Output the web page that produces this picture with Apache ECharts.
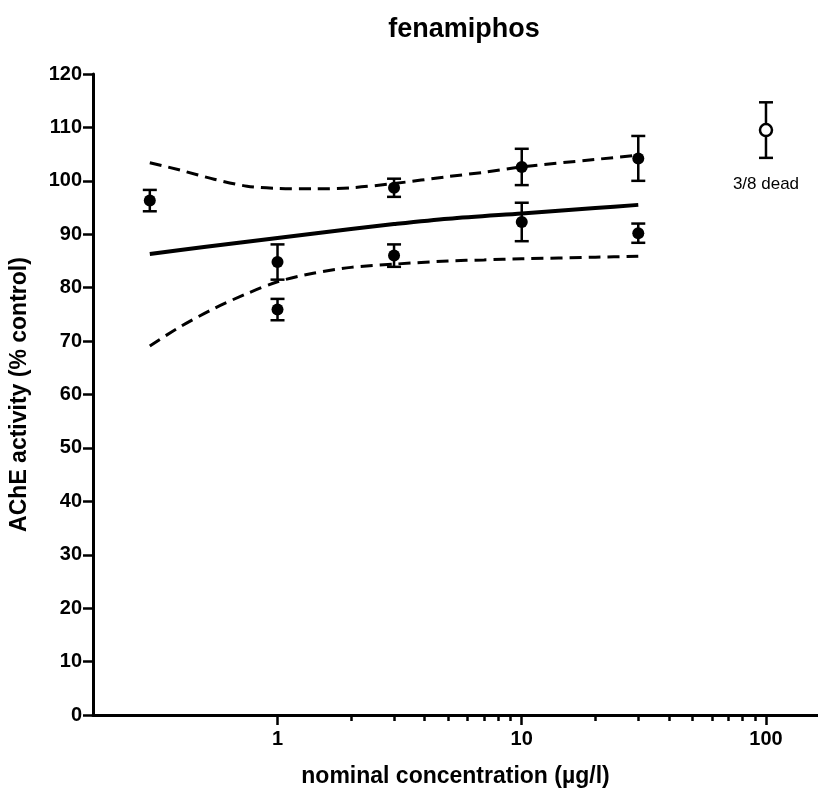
<!DOCTYPE html>
<html>
<head>
<meta charset="utf-8">
<script src="https://cdn.jsdelivr.net/npm/echarts@6/dist/echarts.min.js"></script>
<style>
  html, body { margin: 0; padding: 0; background: #fff; }
  #chart { width: 818px; height: 790px; }
</style>
</head>
<body>
<div id="chart"></div>
<script>
// Measured AChE activity (mean and SEM) per nominal concentration
const concentrations = [0.3, 1, 1, 3, 3, 10, 10, 30, 30];
const activityMean   = [96.3, 84.8, 75.9, 98.7, 86.0, 102.6, 92.3, 104.2, 90.2];
const activitySem    = [2.0, 3.3, 2.0, 1.7, 2.1, 3.4, 3.6, 4.2, 1.8];

// Highest concentration, with mortality (open symbol)
const deadConc = [100];
const deadMean = [109.5];
const deadSem  = [5.2];
const deadNote = '3/8 dead';

// Fitted curve and its 95% confidence band
const fitX   = [0.3, 0.5, 1, 2, 3, 5, 10, 20, 30];
const fitY   = [86.3, 87.6, 89.3, 91.0, 91.9, 92.9, 93.9, 94.9, 95.5];
const bandX  = [0.3, 0.4, 0.55, 0.75, 1, 1.4, 2, 3, 5, 7, 10, 20, 30];
const upperY = [103.4, 102.0, 100.3, 99.0, 98.6, 98.5, 98.7, 99.5, 100.8, 101.6, 102.6, 104.0, 104.8];
const lowerY = [69.1, 72.7, 76.1, 78.9, 81.1, 82.7, 83.8, 84.4, 85.0, 85.2, 85.4, 85.7, 85.9];

// Axis ticks
const majorTicks = [1, 10, 100];
const minorTicks = [2, 3, 4, 5, 6, 7, 8, 9, 20, 30, 40, 50, 60, 70, 80, 90];
const xMin = 0.1756, xMax = 163.3;

const zip = (xs, ys) => xs.map((x, i) => [x, ys[i]]);

const FONT = '"Liberation Sans", Arial, Helvetica, sans-serif';

function errorBar(params, api) {
  const x = api.value(0);
  const lo = api.coord([x, api.value(1)]);
  const hi = api.coord([x, api.value(2)]);
  const w = 7;
  const st = { stroke: '#000', lineWidth: 2.5 };
  return {
    type: 'group',
    children: [
      { type: 'line', shape: { x1: lo[0], y1: lo[1], x2: hi[0], y2: hi[1] }, style: st },
      { type: 'line', shape: { x1: lo[0] - w, y1: lo[1], x2: lo[0] + w, y2: lo[1] }, style: st },
      { type: 'line', shape: { x1: hi[0] - w, y1: hi[1], x2: hi[0] + w, y2: hi[1] }, style: st }
    ]
  };
}

const chart = echarts.init(document.getElementById('chart'), null, { renderer: 'canvas' });

chart.setOption({
  animation: false,
  backgroundColor: '#fff',
  title: {
    text: 'fenamiphos',
    left: 459, top: 11, textAlign: 'center',
    textStyle: { fontFamily: FONT, fontWeight: 'bold', fontSize: 27, color: '#000' }
  },
  grid: { left: 93, right: 0, top: 74, bottom: 75, outerBoundsMode: 'none', containLabel: false },
  xAxis: [
    {
      type: 'log', logBase: 10, min: xMin, max: xMax,
      name: 'nominal concentration (µg/l)',
      nameLocation: 'middle', nameGap: 50,
      nameTextStyle: { fontFamily: FONT, fontWeight: 'bold', fontSize: 23, color: '#000' },
      axisLine: { show: true, lineStyle: { color: '#000', width: 3 } },
      axisTick: { show: true, customValues: majorTicks, length: 10, lineStyle: { color: '#000', width: 2.5 } },
      axisLabel: {
        customValues: majorTicks, margin: 14,
        fontFamily: FONT, fontWeight: 'bold', fontSize: 20, color: '#000',
        formatter: v => String(v)
      },
      splitLine: { show: false },
      minorTick: { show: false }
    },
    {
      type: 'log', logBase: 10, min: xMin, max: xMax,
      position: 'bottom',
      axisLine: { show: false },
      axisTick: { show: true, customValues: minorTicks, length: 6, lineStyle: { color: '#000', width: 2.5 } },
      axisLabel: { show: false },
      splitLine: { show: false }
    }
  ],
  yAxis: {
    type: 'value', min: 0, max: 120, interval: 10,
    name: 'AChE activity (% control)',
    nameLocation: 'middle', nameGap: 62, nameRotate: 90,
    nameTextStyle: { fontFamily: FONT, fontWeight: 'bold', fontSize: 23, color: '#000' },
    axisLine: { show: true, lineStyle: { color: '#000', width: 3 } },
    axisTick: { show: true, length: 10, lineStyle: { color: '#000', width: 2.5 } },
    axisLabel: { margin: 11, fontFamily: FONT, fontWeight: 'bold', fontSize: 20, color: '#000' },
    splitLine: { show: false }
  },
  series: [
    {
      type: 'line', data: zip(bandX, upperY), smooth: 0.3, symbol: 'none',
      lineStyle: { color: '#000', width: 3, type: [12, 7] }, z: 2
    },
    {
      type: 'line', data: zip(bandX, lowerY), smooth: 0.3, symbol: 'none',
      lineStyle: { color: '#000', width: 3, type: [12, 7] }, z: 2
    },
    {
      type: 'line', data: zip(fitX, fitY), smooth: 0.3, symbol: 'none',
      lineStyle: { color: '#000', width: 4 }, z: 2
    },
    {
      type: 'custom', renderItem: errorBar, z: 3,
      data: concentrations.map((x, i) => [x, activityMean[i] - activitySem[i], activityMean[i] + activitySem[i]])
    },
    {
      type: 'custom', renderItem: errorBar, z: 3,
      data: deadConc.map((x, i) => [x, deadMean[i] - deadSem[i], deadMean[i] + deadSem[i]])
    },
    {
      type: 'scatter', data: zip(concentrations, activityMean),
      symbol: 'circle', symbolSize: 12,
      itemStyle: { color: '#000', opacity: 1 }, z: 4
    },
    {
      type: 'scatter', data: zip(deadConc, deadMean),
      symbol: 'circle', symbolSize: 12,
      itemStyle: { color: '#fff', borderColor: '#000', borderWidth: 2.5, opacity: 1 }, z: 4,
      label: {
        show: true, position: 'bottom', distance: 38,
        formatter: deadNote,
        fontFamily: '"Liberation Sans Narrow", "Liberation Sans", Arial, sans-serif',
        fontSize: 17, color: '#000'
      }
    }
  ]
});
</script>
</body>
</html>
